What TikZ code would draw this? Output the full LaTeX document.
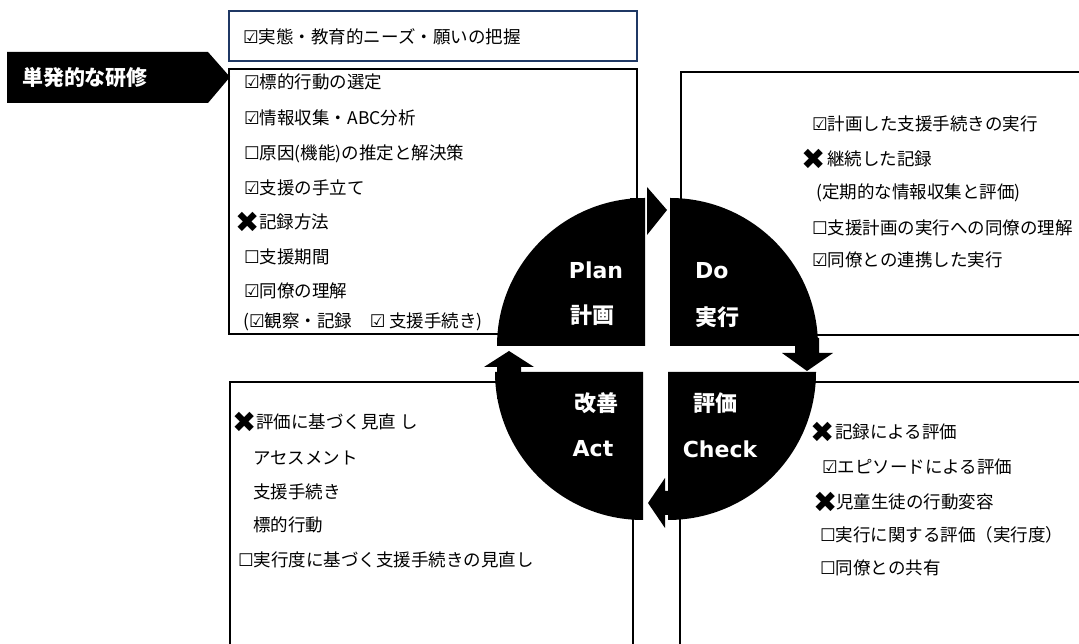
\documentclass[tikz,border=0pt]{standalone}
\usepackage{fontspec}
\setmainfont{Noto Sans CJK JP}
\newfontfamily\symf{DejaVu Sans}
\newfontfamily\latf{DejaVu Sans}
\definecolor{navy}{RGB}{31,56,100}
\newcommand\boxchk{{\symf ☑}}
\newcommand\boxemp{{\symf ☐}}
\begin{document}
\begin{tikzpicture}[x=1pt,y=1pt,
  box/.style={draw=black,line width=2pt},
  txt/.style={anchor=west,inner sep=0pt,font=\fontsize{17.5}{20}\selectfont},
  lbl/.style={text=white,inner sep=0pt,font=\fontsize{22}{24}\selectfont\bfseries},
  llat/.style={text=white,inner sep=0pt,font=\fontsize{22}{24}\selectfont\latf\bfseries},
  xm/.style={inner sep=0pt,font=\fontsize{29}{30}\selectfont\symf},
  quad/.style={fill=black},
  arr/.style={fill=black}]
\useasboundingbox (0,0) rectangle (1079,644);
\clip (0,0) rectangle (1079,644);
% boxes
\draw[box,draw=navy] (229,583) rectangle (637,633);
\draw[box] (229,310) rectangle (637,575);
\draw[box] (681,309) rectangle (1090,572);
\draw[box] (230,-10) rectangle (633,262);
\draw[box] (680,-10) rectangle (1090,262);
% label arrow
\fill (7,592) -- (208,592) -- (230,567) -- (208,541) -- (7,541) -- cycle;
\node[lbl,font=\fontsize{21}{24}\selectfont\bfseries] (tan) at (85,566) {単発的な研修};
% quadrants
\fill[quad] (645,298) -- (497,298) arc[start angle=180,end angle=90,radius=148] -- cycle;
\fill[quad] (670,298) -- (670,446) arc[start angle=90,end angle=0,radius=148] -- cycle;
\fill[quad] (668,272) -- (816,272) arc[start angle=0,end angle=-90,radius=148] -- cycle;
\fill[quad] (643,272) -- (643,124) arc[start angle=-90,end angle=-180,radius=148] -- cycle;
% arrows
\fill[arr] (630,424) rectangle (645,446);
\fill[arr] (647,457) -- (667,434) -- (647,409) -- cycle;
\fill[arr] (795,306) -- (819,306) -- (819,291) -- (833,291) -- (807,273) -- (782,291) -- (795,291) -- cycle;
\fill[arr] (690,153) -- (665,153) -- (665,166) -- (648,141) -- (665,116) -- (665,129) -- (690,129) -- cycle;
\fill[arr] (497,245) -- (497,277) -- (484,277) -- (509,293) -- (534,277) -- (521,277) -- (521,245) -- cycle;
% circle labels
\node[llat] (plan) at (596,374) {Plan};
\node[lbl] (keikaku) at (592,329) {計画};
\node[llat,anchor=west] (do) at (695,373) {Do};
\node[lbl,anchor=west] (jikko) at (695,327) {実行};
\node[lbl] (kaizen) at (596,241) {改善};
\node[llat] (act) at (593,195) {Act};
\node[lbl] (hyoka) at (715,241) {評価};
\node[llat] (check) at (720,195) {Check};
% top box
\node[txt] (t1) at (243,607) {\boxchk 実態・教育的ニーズ・願いの把握};
% plan box
\node[txt] (p1) at (244,562) {\boxchk 標的行動の選定};
\node[txt] (p2) at (244,526) {\boxchk 情報収集・ABC分析};
\node[txt] (p3) at (244,490) {\boxemp 原因(機能)の推定と解決策};
\node[txt] (p4) at (244,456) {\boxchk 支援の手立て};
\node[xm] (px) at (248,422) {✖};
\node[txt] (p5) at (259,422) {記録方法};
\node[txt] (p6) at (244,387) {\boxemp 支援期間};
\node[txt] (p7) at (244,353) {\boxchk 同僚の理解};
\node[txt] (p8) at (243,322) {(\boxchk 観察・記録　\boxchk\ 支援手続き)};
% do box
\node[txt] (d1) at (812,520) {\boxchk 計画した支援手続きの実行};
\node[xm] (dx) at (814,485) {✖};
\node[txt] (d2) at (827,485) {継続した記録};
\node[txt] (d3) at (816,451) {(定期的な情報収集と評価)};
\node[txt] (d4) at (812,416) {\boxemp 支援計画の実行への同僚の理解};
\node[txt] (d5) at (812,384) {\boxchk 同僚との連携した実行};
% act box
\node[xm] (ax) at (245,222) {✖};
\node[txt] (a1) at (256,222) {評価に基づく見直 し};
\node[txt] (a2) at (253,186) {アセスメント};
\node[txt] (a3) at (253,152) {支援手続き};
\node[txt] (a4) at (253,119) {標的行動};
\node[txt] (a5) at (238,84) {\boxemp 実行度に基づく支援手続きの見直し};
% check box
\node[xm] (cx1) at (823,212) {✖};
\node[txt] (c1) at (835,212) {記録による評価};
\node[txt] (c2) at (822,177) {\boxchk エピソードによる評価};
\node[xm] (cx2) at (826,142) {✖};
\node[txt] (c3) at (836,142) {児童生徒の行動変容};
\node[txt] (c4) at (820,109) {\boxemp 実行に関する評価（実行度）};
\node[txt] (c5) at (820,76) {\boxemp 同僚との共有};
\end{tikzpicture}
\end{document}
